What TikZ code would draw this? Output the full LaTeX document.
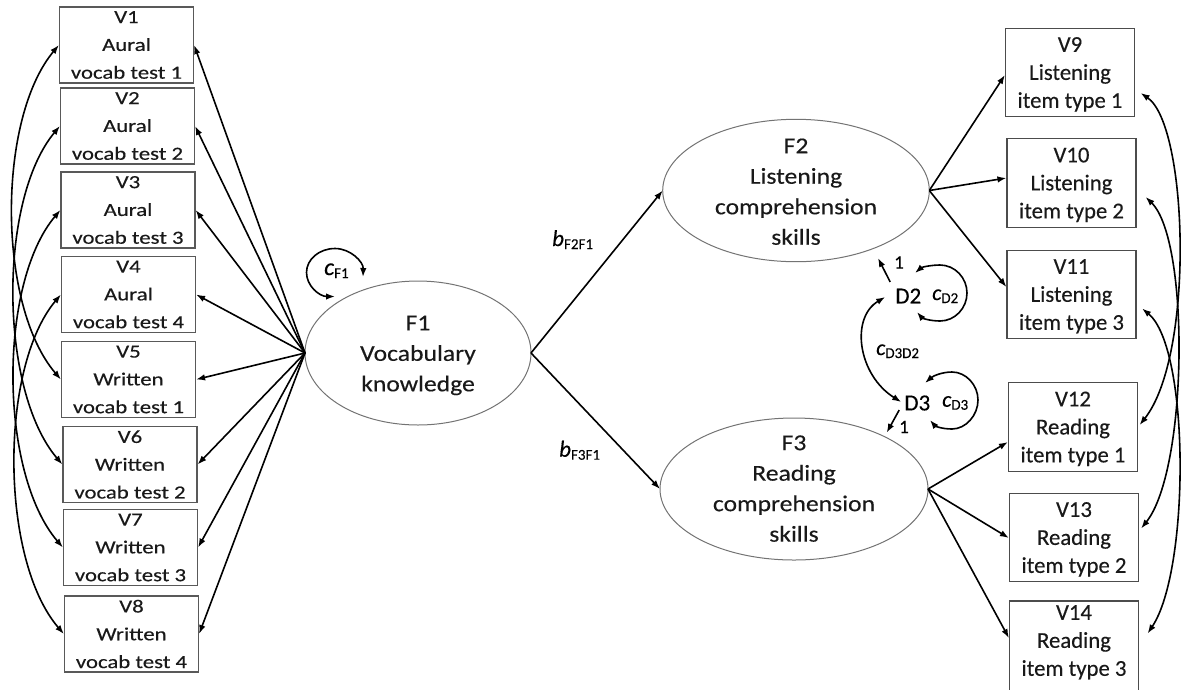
\documentclass[tikz,border=0pt]{standalone}
\usepackage{fontspec}
\setmainfont{Carlito}[FakeBold=0.3]
\newfontfamily\lboxfont{Carlito}[FakeStretch=1.23,FakeBold=0.3]
\newfontfamily\ellfont{Carlito}[FakeStretch=1.13,FakeBold=0.3]
\usetikzlibrary{shapes.geometric,arrows.meta,calc}

% path coefficient: italic letter with an upright subscript
\newcommand{\pcoef}[3][22]{{\fontsize{#1}{#1}\selectfont\itshape #2}\raisebox{-3pt}{\fontsize{15}{15}\selectfont #3}}

\begin{document}
\begin{tikzpicture}[x=1pt,y=-1pt,
  tip/.tip={Latex[length=9pt,width=6.5pt]},
  arr/.style={line width=1.6pt,-tip},
  darr/.style={line width=1.6pt,tip-tip},
  lbox/.style={draw=black!65,line width=1.2pt,rectangle,minimum width=134pt,minimum height=76pt,
    inner sep=0pt,align=center,text=black!90,font=\lboxfont\fontsize{18.5}{27.8}\selectfont},
  rbox/.style={draw=black!70,line width=1.2pt,rectangle,minimum width=129pt,minimum height=88.5pt,
    inner sep=0pt,align=center,text=black!90,font=\fontsize{22.7}{28}\selectfont},
  lat/.style={draw=black!55,line width=1pt,ellipse,inner sep=0pt,outer sep=0pt},
  ltext/.style={align=center,inner sep=0pt,text=black!90,font=\ellfont\fontsize{22.7}{30.5}\selectfont},
  lab/.style={inner sep=0pt,text=black,anchor=base west},
  dlab/.style={inner sep=0pt,text=black,font=\fontsize{23}{23}\selectfont},
  one/.style={inner sep=0pt,text=black,font=\fontsize{19}{19}\selectfont},
]
\useasboundingbox (0,0) rectangle (1182,689);
\clip (0,0) rectangle (1182,689);

% vocabulary indicators
\node[lbox] (V1) at (126.5,45)  {V1\\Aural\\vocab test 1};
\node[lbox] (V2) at (127.5,126) {V2\\Aural\\vocab test 2};
\node[lbox] (V3) at (128,210)   {V3\\Aural\\vocab test 3};
\node[lbox] (V4) at (128.5,294.5) {V4\\Aural\\vocab test 4};
\node[lbox] (V5) at (128.5,379.5) {V5\\Written\\vocab test 1};
\node[lbox] (V6) at (130,464.5) {V6\\Written\\vocab test 2};
\node[lbox] (V7) at (130.5,547.5) {V7\\Written\\vocab test 3};
\node[lbox] (V8) at (131.5,634) {V8\\Written\\vocab test 4};

% listening and reading indicators
\node[rbox] (V9)  at (1070,72.5)   {V9\\Listening\\\smash{item type 1}};
\node[rbox] (V10) at (1071.5,183)  {V10\\Listening\\\smash{item type 2}};
\node[rbox] (V11) at (1071.5,294.5){V11\\Listening\\\smash{item type 3}};
\node[rbox] (V12) at (1073,427)    {V12\\Reading\\\smash{item type 1}};
\node[rbox] (V13) at (1074,537.5)  {V13\\Reading\\\smash{item type 2}};
\node[rbox,minimum height=91pt] (V14) at (1074,646.5) {};
\node[rbox,draw=none] (V14t) at (1074,640.5) {V14\\Reading\\\smash{item type 3}};

% latent factors
\node[lat,minimum width=226pt,minimum height=144pt] (F1) at (418,353) {};
\node[ltext] (F1t) at (418,353.5) {F1\\Vocabulary\\\smash{knowledge}};
\node[lat,minimum width=266.6pt,minimum height=142.4pt] (F2) at (796,190.5) {};
\node[ltext] (F2t) at (796,191.7) {F2\\Listening\\comprehension\\skills};
\node[lat,minimum width=268pt,minimum height=142pt] (F3) at (794,489) {};
\node[ltext] (F3t) at (794,488.6) {F3\\Reading\\comprehension\\skills};

% disturbances
\node[dlab] (D2) at (908.3,296) {D2};
\node[dlab] (D3) at (917.3,403) {D3};

% loadings of F1
\foreach \i in {1,...,8} \draw[arr] (F1.west) -- (V\i.east);

% structural paths
\draw[arr] (F1.east) -- (F2.west);
\draw[arr] (F1.east) -- (F3.west);
\node[lab] (bF2F1) at (552,246) {\pcoef[23]{b}{F2F1}};
\node[lab] (bF3F1) at (559,456.7) {\pcoef[23]{b}{F3F1}};

% loadings of F2 and F3
\draw[arr] (F2.east) -- ($(V9.west)+(0,2.5)$);
\draw[arr] (F2.east) -- ($(V10.west)+(0,-5)$);
\draw[arr] (F2.east) -- ($(V11.west)+(0,-7.5)$);
\draw[arr] (F3.east) -- ($(V12.west)+(0,15)$);
\draw[arr] (F3.east) -- ($(V13.west)+(0,0.5)$);
\draw[arr] (F3.east) -- ($(V14.west)+(0,-8.5)$);

% residual covariances, vocabulary tests
\draw[darr] (V1.west) .. controls (-3,119) and (-3,305) .. (V5.west);
\draw[darr] (V2.west) .. controls (-2,200) and (-1,390) .. (V6.west);
\draw[darr] (V3.west) .. controls (-2,284) and (-1,473) .. (V7.west);
\draw[darr] (V4.west) .. controls (-1,368) and (0,560) .. (V8.west);

% residual covariances, item types
\draw[darr] ($(V9.east)+(5.5,20.5)$) .. controls (1188,125) and (1195,355) .. ($(V12.east)+(1.5,-2)$);
\draw[darr] ($(V10.east)+(9,14)$) .. controls (1190,240) and (1188,470) .. ($(V13.east)+(2,-9)$);
\draw[darr] ($(V11.east)+(5.5,14)$) .. controls (1190,348) and (1190,570) .. ($(V14.east)+(8.5,-13)$);

% variance of F1
\coordinate (cF1a) at (335,296.5);
\coordinate (cF1b) at (363,277);
\draw[darr] (cF1a) .. controls (319.3,296.5) and (306.5,285.8) .. (306.5,272.5)
  .. controls (306.5,259.2) and (319.3,248.5) .. (335,248.5)
  .. controls (350.7,248.5) and (363.5,262) .. (cF1b);
\node[lab] (cF1) at (324,275) {\pcoef[24]{c}{F1}};

% disturbance variances
\coordinate (cD2a) at (915,273);
\coordinate (cD2b) at (917,312);
\draw[darr] (cD2a) .. controls (922,267) and (932,265) .. (940,265)
  .. controls (955,265) and (967,278) .. (967,293)
  .. controls (967,308) and (955,321) .. (940,321)
  .. controls (930,321) and (922,318) .. (cD2b);
\node[lab] (cD2) at (932,300) {\pcoef{c}{D2}};

\coordinate (cD3a) at (925,383);
\coordinate (cD3b) at (930,420);
\draw[darr] (cD3a) .. controls (933,376) and (942,372) .. (952,372)
  .. controls (966,372) and (978,385) .. (978,400)
  .. controls (978,415) and (966,429) .. (952,429)
  .. controls (942,429) and (935,426) .. (cD3b);
\node[lab] (cD3) at (942,406.7) {\pcoef{c}{D3}};

% disturbance covariance
\draw[darr] ([shift={(-10,1)}]D2.west) .. controls (850,318) and (858,375) .. ([shift={(-3,-1)}]D3.west);
\node[lab] (cD3D2) at (876,355) {\pcoef{c}{D3D2}};

% fixed disturbance paths
\coordinate (d2end) at (878,258);
\draw[arr] ([shift={(-5,-14)}]D2.west) -- (d2end);
\node[one] (one2) at (899,262.5) {1};
\coordinate (d3end) at (886.7,432.7);
\draw[arr] ([shift={(-5,7)}]D3.west) -- (d3end);
\node[one] (one3) at (904,427) {1};
\end{tikzpicture}
\end{document}
